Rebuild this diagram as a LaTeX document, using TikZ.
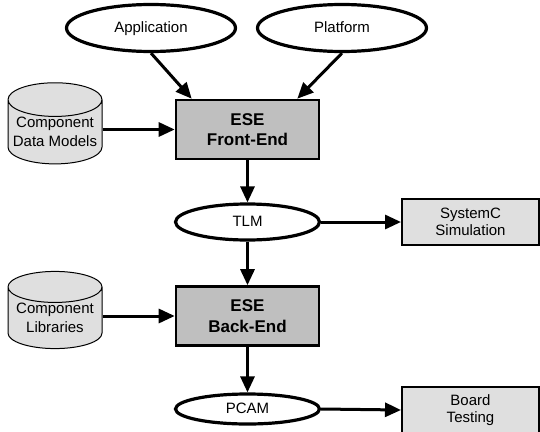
\documentclass[tikz,border=0pt]{standalone}
\usepackage{fontspec}
\setmainfont{Liberation Sans}
\usepackage{tikz}
\usetikzlibrary{
  arrows.meta,
  shapes.geometric,
  positioning
}

\begin{document}
\begin{tikzpicture}[x=1pt,y=1pt,every text node part/.style={align=center},
  model/.style={ellipse,draw=black,fill=white,line width=3.2pt,inner sep=0pt,
    minimum width=169pt,minimum height=47pt,text height=11pt,text depth=3pt,
    font=\fontsize{15}{18}\selectfont},
  flow/.style={model,minimum width=144pt,minimum height=36pt},
  tool/.style={rectangle,draw=black,fill=gray!50,line width=2.6pt,
    minimum width=143pt,minimum height=59pt,font=\bfseries\fontsize{17}{20.5}\selectfont},
  result/.style={rectangle,draw=black,fill=gray!25,line width=2pt,
    minimum width=137pt,minimum height=46pt,font=\fontsize{15}{17.5}\selectfont},
  db/.style={cylinder,shape border rotate=90,aspect=0.4,draw=black,fill=gray!25,
    line width=1pt,minimum width=94pt,minimum height=69pt,inner sep=0pt,
    font=\fontsize{15}{19.5}\selectfont},
  link/.style={line width=3pt,-{Triangle[length=16pt,width=14pt]}}]
  \useasboundingbox (0,0) rectangle (540,-431);

  \node[model] (app) at (151,-28) {Application};
  \node[model] (plat) at (342,-28) {Platform};
  \node[tool] (fe) at (247.5,-129.5) {ESE\\Front-End};
  \node[db] (cdm) at (55,-132) {Component\\Data Models};
  \draw[link] (app.south) -- ([xshift=17pt]fe.north west);
  \draw[link] (plat.south) -- ([xshift=-23pt]fe.north east);
  \draw[link] (cdm.east |- fe.west) -- (fe.west);

  \node[flow] (tlm) at (247.5,-222) {TLM};
  \node[result] (sim) at (470.5,-222) {SystemC\\Simulation};
  \draw[link] (fe.south) -- (tlm.north);
  \draw[link] (tlm.east) -- (sim.west);

  \node[tool] (be) at (247.5,-316) {ESE\\Back-End};
  \node[db] (cl) at (55,-318) {Component\\Libraries};
  \draw[link] (tlm.south) -- (be.north);
  \draw[link] (cl.east |- be.west) -- (be.west);

  \node[flow,minimum height=30pt] (pcam) at (247.5,-409) {PCAM};
  \node[result] (test) at (470.5,-410) {Board\\Testing};
  \draw[link] (be.south) -- (pcam.north);
  \draw[link] (pcam.east) -- (test.west);

\end{tikzpicture}
\end{document}
